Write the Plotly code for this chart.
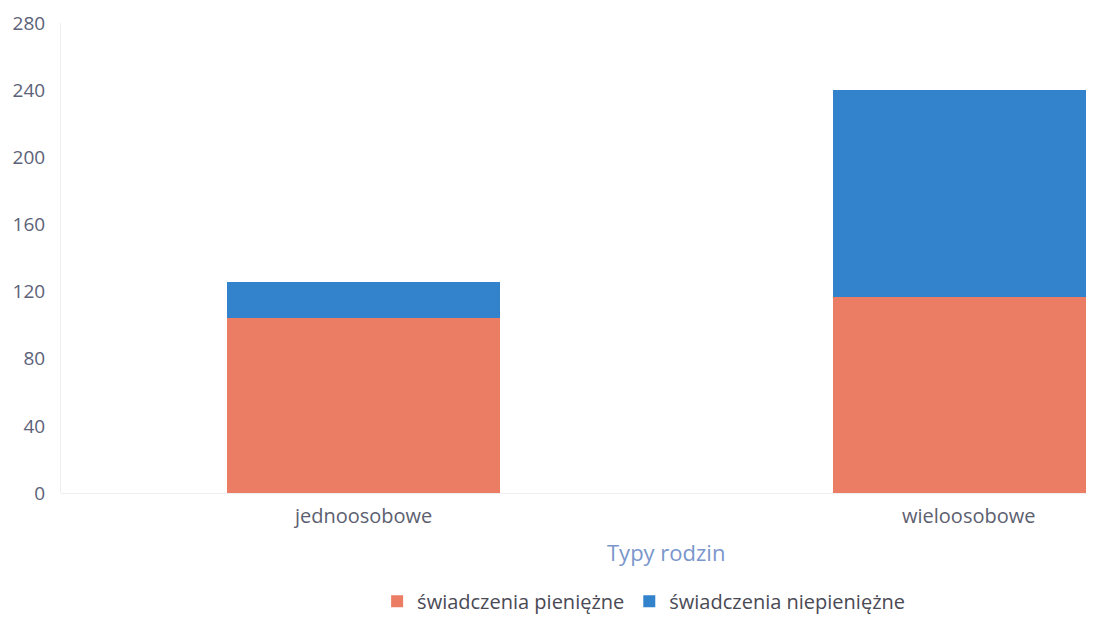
import plotly.graph_objects as go

categories = ["jednoosobowe", "wieloosobowe"]
pieniezne = [104, 117]
niepieniezne = [22, 123]
series_names = ["świadczenia pieniężne", "świadczenia niepieniężne"]
y_ticks = [0, 40, 80, 120, 160, 200, 240, 280]

fig = go.Figure()
fig.add_trace(go.Bar(x=categories, y=pieniezne, name=series_names[0],
                     marker=dict(color="#ec7d65", line=dict(width=0)), width=0.45))
fig.add_trace(go.Bar(x=categories, y=niepieniezne, name=series_names[1],
                     marker=dict(color="#3282cc", line=dict(width=0)), width=0.45))

fig.update_layout(
    barmode="stack",
    width=1086, height=609,
    margin=dict(l=53, r=0, t=15, b=124, autoexpand=False),
    paper_bgcolor="white", plot_bgcolor="white",
    font=dict(family="Open Sans, Noto Sans, sans-serif", size=16, color="#555a70"),
    showlegend=True,
    legend=dict(orientation="h", traceorder="normal", x=0.564, xanchor="center",
                yref="container", y=0.026, yanchor="middle",
                font=dict(size=20, color="#4a4a55")),
    xaxis=dict(range=[-0.5, 1.207], showgrid=False, zeroline=False, showline=False,
               ticks="", tickfont=dict(size=20, color="#5c6070"), ticklabelstandoff=9,
               automargin=False),
    yaxis=dict(range=[0, 280], tickvals=y_ticks, showgrid=False, zeroline=True,
               zerolinecolor="#eeeeee", zerolinewidth=1,
               showline=True, linecolor="#eeeeee", linewidth=1,
               ticks="", tickfont=dict(size=19, color="#5c6278"), ticklabelstandoff=11,
               ticklabeloverflow="allow", automargin=False),
    annotations=[dict(text="Typy rodzin", xref="paper", yref="paper", x=0.586, y=-0.1265,
                      xanchor="center", yanchor="middle", showarrow=False,
                      font=dict(size=22, color="#7a96cc"))],
)

fig.write_html("out.html")
